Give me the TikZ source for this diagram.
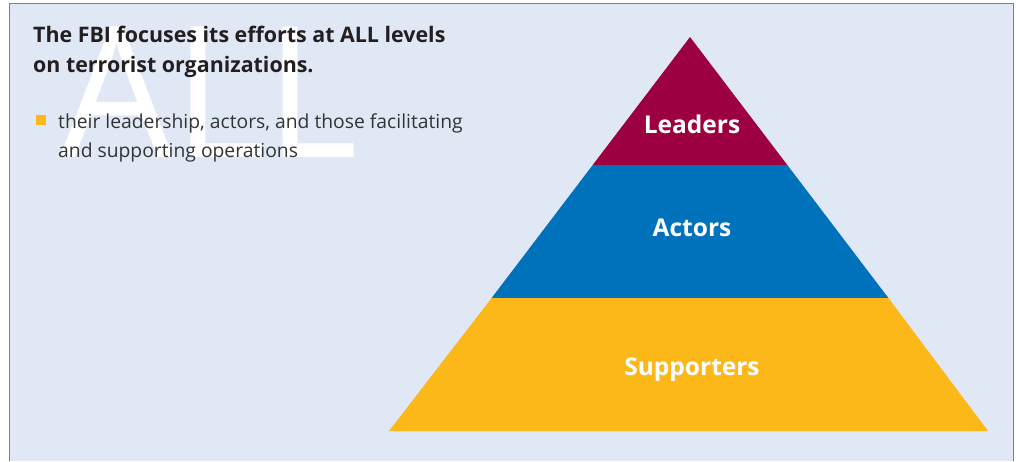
\documentclass[tikz,border=0pt]{standalone}
\usepackage{fontspec}
\setmainfont{Open Sans}
\definecolor{panel}{HTML}{E1E8F5}
\definecolor{frame}{HTML}{7F7F7F}
\definecolor{ink}{HTML}{231F20}
\definecolor{bodyink}{HTML}{333333}
\definecolor{leadc}{HTML}{9D0040}
\definecolor{actc}{HTML}{0071BB}
\definecolor{suppc}{HTML}{FBB818}
\definecolor{bulletc}{HTML}{FBB818}
\begin{document}
\begin{tikzpicture}[x=1pt,y=-1pt,
  headline/.style={anchor=base west, inner sep=0, text=ink,
    font=\bfseries\fontsize{21.4}{26}\selectfont},
  bodyline/.style={anchor=base west, inner sep=0, text=bodyink,
    font=\fontsize{19.3}{23}\selectfont},
  tierlabel/.style={anchor=base, inner sep=0, text=white,
    font=\bfseries\fontsize{24.5}{30}\selectfont}]
\useasboundingbox (0,0) rectangle (1016,461);
\fill[white] (0,0) rectangle (1016,461);
% panel with a frame on three sides
\fill[panel] (9.5,3.5) rectangle (1013.5,461);
\draw[frame, line width=1.5pt] (9.5,461) -- (9.5,3.5) -- (1013.5,3.5) -- (1013.5,461);

% large watermark word behind the heading
\node[anchor=south west, inner sep=0, text=white] (wm) at (60,158)
  {\resizebox{298pt}{131pt}{\fontsize{40}{40}\selectfont ALL}};

% heading
\node[headline] (h1) at (33,42.7) {The FBI focuses its efforts at ALL levels};
\node[headline] (h2) at (33,72) {on terrorist organizations.};

% bullet item
\node[fill=bulletc, minimum size=10pt, inner sep=0] (bul) at (41,119.7) {};
\node[bodyline] (b1) at (58,128) {their leadership, actors, and those facilitating};
\node[bodyline] (b2) at (58,157) {and supporting operations};

% pyramid tiers
\coordinate (apex) at (690,37);
\coordinate (l1) at (592.7,165); \coordinate (r1) at (787.3,165);
\coordinate (l2) at (491.6,298); \coordinate (r2) at (888.4,298);
\coordinate (l3) at (389,431);   \coordinate (r3) at (988,431);
\fill[leadc] (apex) -- (r1) -- (l1) -- cycle;
\fill[actc] (l1) -- (r1) -- (r2) -- (l2) -- cycle;
\fill[suppc] (l2) -- (r2) -- (r3) -- (l3) -- cycle;

\node[tierlabel] (lead) at (692,133) {Leaders};
\node[tierlabel] (act) at (692,236) {Actors};
\node[tierlabel] (supp) at (692,375) {Supporters};
\end{tikzpicture}
\end{document}
